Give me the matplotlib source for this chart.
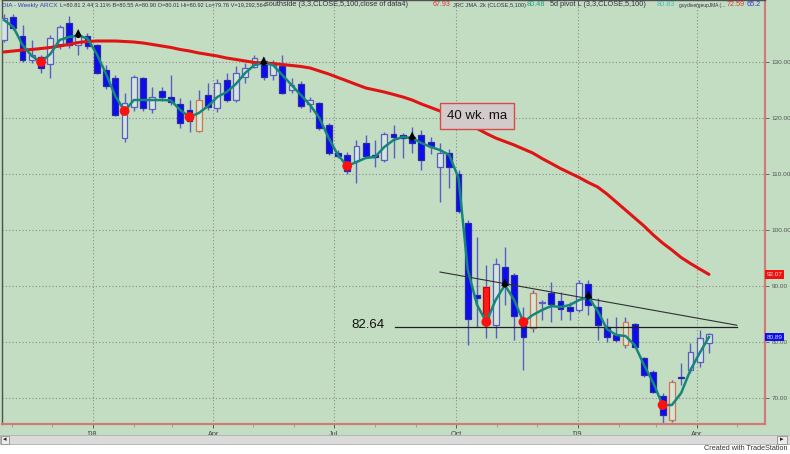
import numpy as np
import pandas as pd
import matplotlib
matplotlib.use('Agg')
import matplotlib.pyplot as plt
import matplotlib.dates as mdates
from matplotlib.patches import Rectangle
from matplotlib.ticker import FuncFormatter

plt.rcParams['font.family'] = ['Liberation Sans', 'DejaVu Sans']

# ---------------- data (weekly DIA bars) ----------------
dates = pd.date_range('2007-10-26', periods=77, freq='W-FRI')

opens = [133.9, 138.0, 134.7, 130.4, 130.9, 129.6, 133.2, 136.9, 133.0, 134.6,
         133.0, 128.6, 127.1, 116.4, 122.0, 127.1, 121.6, 124.8, 123.8, 122.5,
         121.4, 117.7, 124.1, 121.8, 126.8, 123.3, 127.3, 129.1, 130.2, 127.7,
         129.3, 125.0, 126.1, 122.5, 122.7, 118.8, 113.8, 113.4, 112.3, 115.5,
         113.4, 112.5, 117.1, 117.0, 116.6, 117.0, 115.7, 111.3, 113.8, 110.0,
         101.3, 88.4, 89.8, 83.0, 93.4, 92.0, 84.1, 82.5, 86.9, 88.8,
         87.3, 86.3, 85.7, 90.4, 86.3, 82.7, 81.3, 79.5, 83.2, 77.1,
         74.6, 70.4, 66.1, 73.7, 75.0, 76.4, 79.8]
highs = [138.6, 138.6, 136.6, 133.9, 131.3, 134.8, 136.6, 138.2, 135.5, 135.2,
         133.3, 129.4, 127.6, 124.5, 127.7, 127.3, 125.5, 125.5, 127.7, 123.6,
         123.2, 125.0, 126.2, 127.0, 128.0, 129.2, 129.8, 131.3, 130.9, 130.3,
         131.3, 127.1, 126.6, 123.8, 122.9, 119.1, 114.3, 114.0, 116.1, 117.0,
         116.1, 117.5, 118.8, 117.4, 118.4, 117.9, 116.6, 115.5, 114.5, 110.7,
         101.8, 98.8, 93.8, 95.0, 97.0, 92.3, 86.2, 89.3, 87.5, 90.7,
         89.0, 87.2, 91.1, 91.1, 87.9, 84.3, 84.5, 84.5, 83.4, 77.3,
         75.0, 70.9, 73.2, 76.3, 79.8, 82.1, 81.6]
lows = [133.5, 135.8, 130.0, 129.8, 128.0, 127.1, 132.4, 132.5, 131.2, 132.3,
        127.8, 125.2, 120.3, 115.7, 121.3, 121.3, 120.9, 123.0, 122.3, 118.2,
        117.5, 117.5, 121.4, 121.0, 122.8, 122.9, 126.3, 128.9, 126.8, 126.8,
        124.2, 124.5, 121.8, 121.1, 117.9, 113.4, 112.9, 110.0, 108.4, 112.8,
        111.3, 112.1, 112.9, 112.9, 113.8, 110.7, 113.5, 105.0, 107.5, 103.0,
        79.5, 82.7, 80.7, 80.7, 86.6, 80.4, 75.0, 81.8, 83.9, 83.6,
        83.9, 83.9, 85.4, 84.8, 80.4, 80.0, 80.0, 78.9, 78.9, 73.8,
        70.9, 65.2, 65.7, 72.3, 74.5, 75.5, 78.0]
closes = [137.9, 136.1, 130.3, 131.3, 128.9, 134.3, 136.3, 133.0, 134.8, 132.8,
          128.0, 125.8, 120.6, 122.6, 127.3, 121.8, 123.8, 123.8, 122.9, 119.1,
          119.5, 123.2, 122.0, 126.2, 123.3, 128.0, 128.9, 130.7, 127.3, 129.5,
          124.5, 125.9, 122.1, 123.2, 118.2, 113.8, 113.3, 110.6, 115.0, 113.2,
          113.0, 117.1, 116.6, 116.4, 115.5, 112.5, 115.0, 113.8, 111.3, 103.4,
          84.1, 87.9, 83.5, 93.9, 90.2, 84.6, 80.9, 88.8, 87.1, 86.8,
          85.9, 85.5, 90.5, 86.6, 83.0, 80.9, 80.4, 83.6, 79.1, 74.1,
          71.1, 67.0, 72.9, 73.5, 78.2, 80.7, 81.4]

# JRC JMA (teal) and 40-week moving average (red), read per bar
jma = [137.50, 136.25, 133.04, 131.07, 130.00, 131.43, 133.93, 134.46, 134.73, 134.20,
       131.43, 127.86, 123.93, 121.25, 123.21, 123.21, 123.21, 123.21, 123.13, 121.43,
       120.18, 120.89, 122.14, 123.75, 124.64, 126.07, 128.04, 129.46, 129.82, 129.46,
       127.68, 125.89, 124.11, 122.32, 120.00, 116.43, 113.39, 111.43, 112.14, 112.86,
       113.04, 114.82, 116.07, 116.61, 116.43, 115.54, 114.82, 114.29, 113.39, 109.29,
       92.86, 86.61, 83.57, 87.50, 90.18, 87.50, 83.57, 84.82, 85.71, 86.43,
       86.25, 86.61, 87.50, 88.04, 85.54, 82.32, 81.25, 81.07, 79.46, 75.89,
       72.68, 68.75, 68.75, 70.89, 75.00, 78.04, 80.89]
ma40 = [131.79, 131.96, 132.14, 132.23, 132.41, 132.59, 132.86, 133.13, 133.48, 133.66,
        133.75, 133.75, 133.75, 133.66, 133.57, 133.39, 133.13, 132.86, 132.59, 132.23,
        131.96, 131.61, 131.34, 131.07, 130.71, 130.45, 130.18, 129.91, 129.82, 129.73,
        129.55, 129.38, 129.20, 128.93, 128.39, 127.86, 127.23, 126.61, 125.98, 125.36,
        125.00, 124.64, 124.20, 123.75, 123.21, 122.50, 121.88, 121.25, 120.63, 119.82,
        118.93, 118.13, 117.23, 116.43, 115.80, 115.18, 114.46, 113.75, 112.77, 111.88,
        110.98, 110.18, 109.38, 108.48, 107.68, 106.43, 105.00, 103.57, 102.14, 100.71,
        99.11, 97.68, 96.43, 95.09, 94.02, 93.04, 92.07]

red_bars = [52]
orange_bars = [21, 57, 67, 72]
pivot_low_idx = [4, 13, 20, 37, 52, 56, 71]
pivot_high_idx = [8, 28, 44, 54, 63]

level_value = 82.64
level_idx = (42.15, 79.0)
trend_idx = (47.0, 79.0)
trend_vals = (92.5, 83.0)

yticks = [70, 80, 90, 100, 110, 120, 130]
last_ma_label = "92.07"
last_jma_label = "80.89"

header_items = [
    "DIA - Weekly ARCX",
    "L=80.81 2.44 3.11% B=80.55 A=80.90 O=80.01 Hi=80.92 Lo=79.76 V=19,292,564",
    "southside (3,3,CLOSE,5,100,close of data4)", "67.93",
    "JRC JMA .2k (CLOSE,5,100)", "80.48", "5d pivot L (3,3,CLOSE,5,100)", "80.83",
    "guydivergeupJMA (...", "72.59", "65.2",
]

# ---------------- figure ----------------
BG = '#c3ddc3'
W, Hpx = 790, 454
fig = plt.figure(figsize=(7.9, 4.54), dpi=100, facecolor=BG)
ax = fig.add_axes([2/W, 30/Hpx, 763/W, 424/Hpx])
ax.set_facecolor(BG)

d0 = dates[0]
week = pd.Timedelta(days=7)
def idx_date(i):
    return d0 + week * i

o = np.array(opens); h = np.array(highs); l = np.array(lows); c = np.array(closes)
n = len(dates)

wick_col = '#5c5cc4'
ax.vlines(dates, l, h, color=wick_col, lw=1.0, zorder=2)

width = pd.Timedelta(days=4.4)
for i in range(n):
    bot = min(o[i], c[i]); ht = max(abs(c[i] - o[i]), 0.25)
    if i in red_bars:
        fc, ec = '#ff1a1a', '#d00000'
    elif i in orange_bars:
        fc, ec = '#d3e6d8', '#d4744c'
    elif c[i] >= o[i]:
        fc, ec = '#d3e6d8', '#5c5cc4'
    else:
        fc, ec = '#0c0cf0', '#2a2aa8'
    ax.bar(dates[i], ht, bottom=bot, width=width, facecolor=fc, edgecolor=ec,
           linewidth=0.9, zorder=3)

ax.plot(dates, ma40, color='#e01414', lw=2.2, zorder=4, solid_capstyle='round')
ax.plot(dates, jma, color='#14877a', lw=1.8, zorder=5, solid_joinstyle='round')

jm = np.array(jma)
ax.scatter(dates[pivot_low_idx], jm[pivot_low_idx], s=50, color='#ff1010',
           zorder=6, edgecolors='none')
ax.scatter(dates[pivot_high_idx], jm[pivot_high_idx] + 0.5, s=28, color='black',
           marker='^', zorder=6, edgecolors='none')
ax.scatter(dates[pivot_high_idx], jm[pivot_high_idx], s=14, color='black',
           marker='o', zorder=6, edgecolors='none')

# level + trend lines
ax.plot([idx_date(level_idx[0]), idx_date(level_idx[1])], [level_value, level_value],
        color='#202020', lw=0.9, zorder=4)
ax.plot([idx_date(trend_idx[0]), idx_date(trend_idx[1])], list(trend_vals),
        color='#303030', lw=0.8, zorder=4)
ax.text(idx_date(41.0), level_value + 0.4, f"{level_value:.2f}", ha='right', va='center',
        fontsize=9.5, color='#111111', zorder=7)
ax.text(idx_date(51.0), 120.4, "40 wk. ma", ha='center', va='center', fontsize=9.5,
        color='#111111', zorder=7,
        bbox=dict(boxstyle='square,pad=0.55', facecolor='#d3cbcb', edgecolor='#d84a4a', lw=1))

# axes ranges
ax.set_xlim(d0 - pd.Timedelta(days=1.5), d0 + week * 82.04)
ax.set_ylim(65.36, 141.07)

# grid
ax.set_yticks(yticks)
ax.grid(True, color='#8a8a8a', linestyle=(0, (1, 2)), lw=0.8, zorder=1)
ax.set_axisbelow(True)

ax.yaxis.tick_right()
ax.yaxis.set_major_formatter(FuncFormatter(lambda v, p: f"{v:.2f}"))
ax.tick_params(axis='y', labelsize=4.6, colors='#555555', length=3, pad=1.5, width=0.6)

ax.xaxis.set_major_locator(mdates.MonthLocator(bymonth=[1, 4, 7, 10]))
ax.xaxis.set_minor_locator(mdates.MonthLocator())
def fmt(v, p):
    dt = mdates.num2date(v)
    return "'" + dt.strftime('%y') if dt.month == 1 else dt.strftime('%b')
ax.xaxis.set_major_formatter(FuncFormatter(fmt))
ax.tick_params(axis='x', labelsize=5.2, colors='#444444', length=3, pad=2, width=0.6)
ax.tick_params(axis='x', which='minor', length=2, colors='#888888', width=0.5)

for s in ['left', 'top']:
    ax.spines[s].set_color('#505050'); ax.spines[s].set_linewidth(1.0)
for s in ['right', 'bottom']:
    ax.spines[s].set_color('#d07a7a'); ax.spines[s].set_linewidth(1.6)

# right axis value labels
ax.text(1.002, 92.07, last_ma_label, transform=ax.get_yaxis_transform(), ha='left',
        va='center', fontsize=4.6, color='#ffdede', zorder=8, clip_on=False,
        bbox=dict(boxstyle='square,pad=0.3', facecolor='#f01010', edgecolor='none'))
ax.text(1.002, 80.89, last_jma_label, transform=ax.get_yaxis_transform(), ha='left',
        va='center', fontsize=4.6, color='#d8d8ff', zorder=8, clip_on=False,
        bbox=dict(boxstyle='square,pad=0.3', facecolor='#1010e8', edgecolor='none'))

# header line (groups placed at px positions, each fitted to its room)
hdr_x = [2, 60, 265, 433, 453, 527, 550, 657, 679, 727, 747]
hdr_col = ['#3a3ab0', '#303040', '#303040', '#e03030', '#303040', '#20a080',
           '#303040', '#40c0c0', '#303040', '#e03030', '#3030e0']
renderer = fig.canvas.get_renderer()
Hy = 449 / Hpx
base = 5.3
for k, (xpx, txt, col) in enumerate(zip(hdr_x, header_items, hdr_col)):
    room = (hdr_x[k + 1] if k + 1 < len(hdr_x) else 763) - xpx - 2
    t = fig.text(xpx / W, Hy, txt, fontsize=base, color=col, ha='left', va='center')
    wpx = t.get_window_extent(renderer).width
    if wpx > room:
        t.set_fontsize(base * room / wpx)

# bottom scrollbar and credit
fig.patches.append(Rectangle((0, 0), 1, 10/Hpx, transform=fig.transFigure,
                             facecolor='white', edgecolor='none', zorder=0))
fig.patches.append(Rectangle((0, 10/Hpx), 1, 9/Hpx, transform=fig.transFigure,
                             facecolor='#dadada', edgecolor='#b0b0b0', lw=0.6, zorder=1))
fig.patches.append(Rectangle((1/W, 10.5/Hpx), 8/W, 8/Hpx, transform=fig.transFigure,
                             facecolor='#ececec', edgecolor='#909090', lw=0.6, zorder=2))
fig.patches.append(Rectangle((777/W, 10.5/Hpx), 10/W, 8/Hpx, transform=fig.transFigure,
                             facecolor='#ececec', edgecolor='#909090', lw=0.6, zorder=2))
fig.text(5/W, 14.5/Hpx, "\u25c2", fontsize=5, ha='center', va='center', color='#222222',
         family=['DejaVu Sans'])
fig.text(782/W, 14.5/Hpx, "\u25b8", fontsize=5, ha='center', va='center', color='#222222',
         family=['DejaVu Sans'])
fig.text(787/W, 5/Hpx, "Created with TradeStation", fontsize=5.2, ha='right',
         va='center', color='#333333')

fig.savefig('out.png', dpi=100, facecolor=BG)
